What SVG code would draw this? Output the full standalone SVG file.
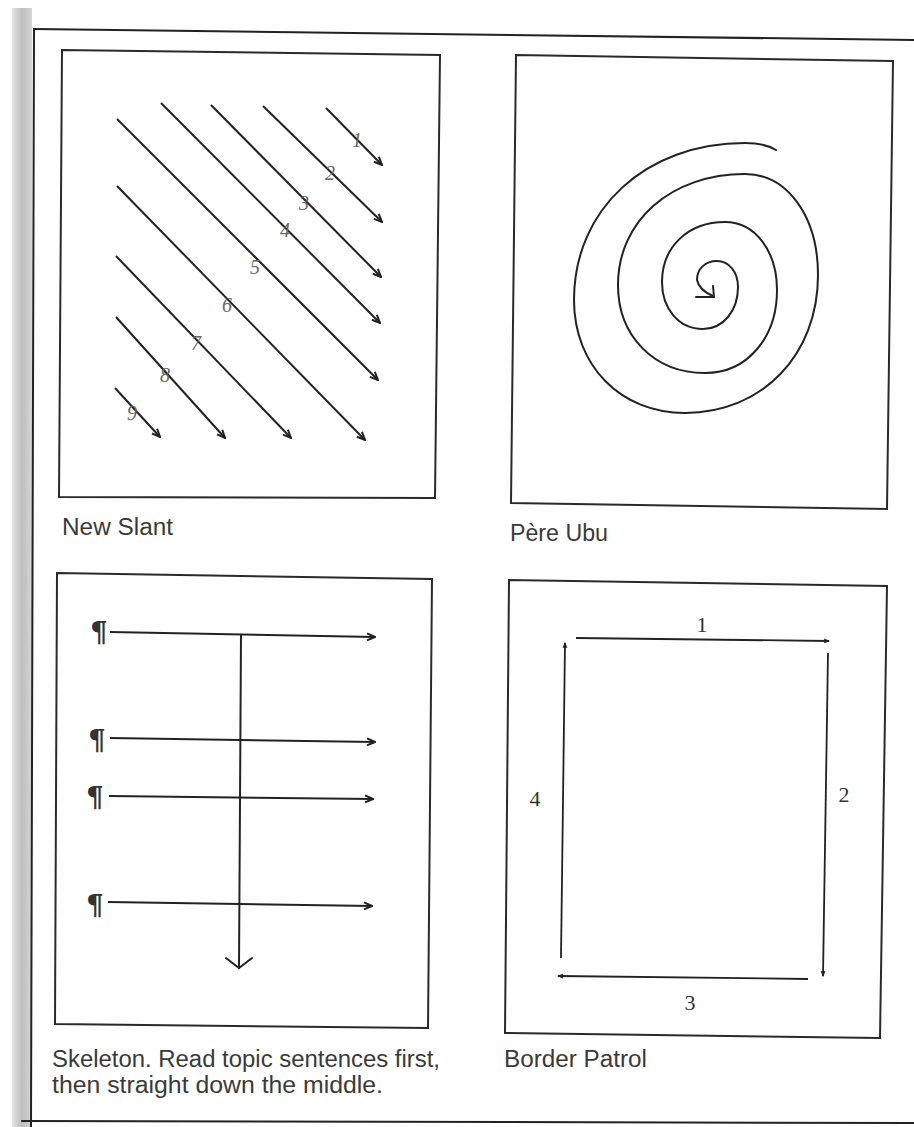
<svg xmlns="http://www.w3.org/2000/svg" width="914" height="1127" viewBox="0 0 914 1127">
<defs>
<linearGradient id="strip" x1="0" y1="0" x2="1" y2="0">
<stop offset="0" stop-color="#e4e4e4"/>
<stop offset="0.5" stop-color="#bdbdbd"/>
<stop offset="1" stop-color="#d6d6d6"/>
</linearGradient>
<marker id="ah" viewBox="0 0 10 10" refX="9" refY="5" markerWidth="10" markerHeight="10" markerUnits="userSpaceOnUse" orient="auto">
<path d="M1,1.5 L9,5 L1,8.5" fill="none" stroke="#222" stroke-width="2"/>
</marker>
<marker id="bh" viewBox="0 0 10 10" refX="8" refY="5" markerWidth="6" markerHeight="6" markerUnits="userSpaceOnUse" orient="auto">
<path d="M0,1 L10,5 L0,9z" fill="#222"/>
</marker>
</defs>
<style>
.frame{fill:none;stroke:#2a2a2a;stroke-width:2}
.ln{fill:none;stroke:#222;stroke-width:2;stroke-linecap:round}
.arr{fill:none;stroke:#222;stroke-width:2;marker-end:url(#ah)}
.barr{fill:none;stroke:#222;stroke-width:1.8;marker-end:url(#bh)}
.cap{font-family:"Liberation Sans",Arial,sans-serif;font-size:23px;fill:#3a3a3a}
.hand{font-family:"Liberation Serif",serif;font-style:italic;font-size:20px;fill:#666;text-anchor:middle}
.num{font-family:"Liberation Serif",serif;font-size:22px;fill:#333;text-anchor:middle}
.pil{font-family:"DejaVu Serif","Liberation Serif",serif;font-weight:bold;font-size:28px;fill:#333;text-anchor:middle}
</style>
<rect width="914" height="1127" fill="#ffffff"/>
<g id="page">
<rect x="12" y="8" width="20" height="1119" fill="url(#strip)"/>
<path class="ln" d="M34,29 L914,40" stroke-width="2.2"/>
<path class="ln" d="M34,29 L31,1127" stroke-width="2"/>
<path class="ln" d="M22,1121 L914,1123" stroke-width="2.5"/>
</g>

<g id="new-slant">
<polygon class="frame" points="62,50 440,55 435,498 59,497"/>
<g id="new-slant-arrows">
<path class="arr" d="M326,108 L382,165"/>
<path class="arr" d="M263,106 L382,222"/>
<path class="arr" d="M211,105 L381,277"/>
<path class="arr" d="M161,103 L380,323"/>
<path class="arr" d="M117,119 L378,380"/>
<path class="arr" d="M117,186 L365,440"/>
<path class="arr" d="M116,256 L291,438"/>
<path class="arr" d="M116,317 L225,438"/>
<path class="arr" d="M115,388 L160,437"/>
</g>
<text class="hand" x="357" y="147">1</text>
<text class="hand" x="330" y="180">2</text>
<text class="hand" x="304" y="210">3</text>
<text class="hand" x="285" y="237">4</text>
<text class="hand" x="255" y="274">5</text>
<text class="hand" x="227" y="312">6</text>
<text class="hand" x="196" y="350">7</text>
<text class="hand" x="165" y="382">8</text>
<text class="hand" x="132" y="420">9</text>
<text class="cap" x="62" y="535" textLength="111" lengthAdjust="spacingAndGlyphs">New Slant</text>
</g>

<g id="pere-ubu">
<polygon class="frame" points="516,55 893,61 887,509 511,503"/>
<path class="ln" stroke-width="3" stroke-linejoin="round" d="M776,150 C768,145 758,143 745,143 C646,143 574,209 574,300 C574,366 621,413 685,413 C762,413 818,355 818,275 C818,216 787,174 745,174 C671,174 618,221 618,285 C618,336 654,373 705,373 C747,373 777,338 777,290 C777,251 755,222 725,222 C688,222 662,247 662,282 C662,309 679,329 703,329 C723,329 738,311 738,287 C738,272 729,261 717,261 C705,261 697,269 697,280 Q699,290 713,296"/>
<path class="ln" stroke-width="3" d="M696,297 L714,297 L713,286"/>
<text class="cap" x="510" y="541" textLength="98" lengthAdjust="spacingAndGlyphs">Père Ubu</text>
</g>

<g id="skeleton">
<polygon class="frame" points="57,573 432,579 428,1028 55,1024"/>
<text class="pil" x="99" y="642">¶</text>
<text class="pil" x="97" y="750">¶</text>
<text class="pil" x="95" y="807">¶</text>
<text class="pil" x="95" y="915">¶</text>
<g id="skeleton-arrows">
<path class="arr" d="M110,632 L375,637"/>
<path class="arr" d="M110,738 L375,742"/>
<path class="arr" d="M109,796 L373,799"/>
<path class="arr" d="M108,902 L372,906"/>
<path class="ln" d="M241,635 L239,968"/>
<path class="ln" d="M226,958 L239,968 L252,958"/>
</g>
<text class="cap" x="52" y="1067" textLength="388" lengthAdjust="spacingAndGlyphs">Skeleton. Read topic sentences first,</text>
<text class="cap" x="52" y="1093" textLength="331" lengthAdjust="spacingAndGlyphs">then straight down the middle.</text>
</g>

<g id="border-patrol">
<polygon class="frame" points="509,580 887,586 880,1038 505,1033"/>
<g id="border-arrows">
<path class="barr" d="M576,638 L829,641"/>
<path class="barr" d="M828,653 L823,976"/>
<path class="barr" d="M808,979 L558,976"/>
<path class="barr" d="M561,958 L565,643"/>
</g>
<text class="num" x="702" y="632">1</text>
<text class="num" x="844" y="802">2</text>
<text class="num" x="690" y="1010">3</text>
<text class="num" x="535" y="806">4</text>
<text class="cap" x="504" y="1067" textLength="143" lengthAdjust="spacingAndGlyphs">Border Patrol</text>
</g>
</svg>
